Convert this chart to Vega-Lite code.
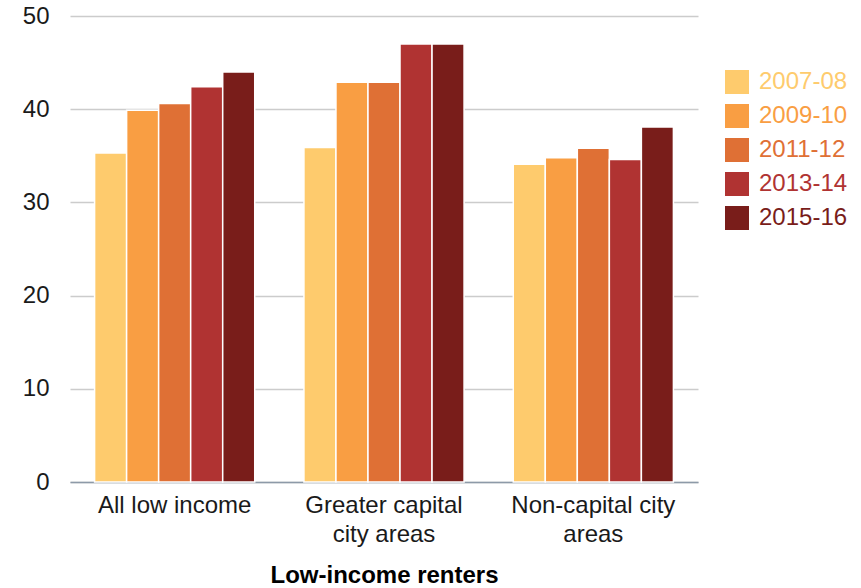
{
  "$schema": "https://vega.github.io/schema/vega-lite/v6.json",
  "width": 628,
  "height": 466,
  "autosize": {"type": "none"},
  "padding": {"left": 70, "top": 16, "right": 163, "bottom": 106},
  "background": "white",
  "config": {
    "view": {"stroke": null},
    "font": "Liberation Sans",
    "axis": {"labelFont": "Liberation Sans", "titleFont": "Liberation Sans"}
  },
  "data": {
    "values": [
      {"area": "All low income", "period": "2007-08", "share": 35.3},
      {"area": "All low income", "period": "2009-10", "share": 39.9},
      {"area": "All low income", "period": "2011-12", "share": 40.6},
      {"area": "All low income", "period": "2013-14", "share": 42.4},
      {"area": "All low income", "period": "2015-16", "share": 44.0},
      {"area": "Greater capital city areas", "period": "2007-08", "share": 35.9},
      {"area": "Greater capital city areas", "period": "2009-10", "share": 42.9},
      {"area": "Greater capital city areas", "period": "2011-12", "share": 42.9},
      {"area": "Greater capital city areas", "period": "2013-14", "share": 47.0},
      {"area": "Greater capital city areas", "period": "2015-16", "share": 47.0},
      {"area": "Non-capital city areas", "period": "2007-08", "share": 34.1},
      {"area": "Non-capital city areas", "period": "2009-10", "share": 34.8},
      {"area": "Non-capital city areas", "period": "2011-12", "share": 35.8},
      {"area": "Non-capital city areas", "period": "2013-14", "share": 34.6},
      {"area": "Non-capital city areas", "period": "2015-16", "share": 38.1}
    ]
  },
  "mark": {"type": "bar", "stroke": "white", "strokeWidth": 1.5},
  "encoding": {
    "x": {
      "field": "area",
      "type": "nominal",
      "sort": null,
      "scale": {"paddingInner": 0.235, "paddingOuter": 0.1175},
      "axis": {
        "title": "Low-income renters",
        "titleFontSize": 24,
        "titleFontWeight": "bold",
        "titleColor": "#000000",
        "titlePadding": 17,
        "labelAngle": 0,
        "labelFontSize": 24,
        "labelColor": "#1a1a1a",
        "labelLineHeight": 29,
        "labelPadding": 11,
        "labelLimit": 0,
        "labelExpr": "datum.value == 'Greater capital city areas' ? ['Greater capital', 'city areas'] : datum.value == 'Non-capital city areas' ? ['Non-capital city', 'areas'] : datum.value",
        "ticks": false,
        "domainColor": "#8d9aa8",
        "domainWidth": 1.5,
        "grid": false
      }
    },
    "xOffset": {
      "field": "period",
      "type": "nominal",
      "scale": {"paddingInner": 0, "paddingOuter": 0}
    },
    "y": {
      "field": "share",
      "type": "quantitative",
      "scale": {"domain": [0, 50], "nice": false},
      "axis": {
        "title": null,
        "values": [0, 10, 20, 30, 40, 50],
        "labelFontSize": 24,
        "labelColor": "#1a1a1a",
        "labelPadding": 21,
        "ticks": false,
        "domain": false,
        "gridColor": "#cccccc",
        "gridWidth": 1.5
      }
    },
    "color": {
      "field": "period",
      "type": "nominal",
      "scale": {
        "domain": ["2007-08", "2009-10", "2011-12", "2013-14", "2015-16"],
        "range": ["#fecb6d", "#f99e43", "#df7035", "#b03332", "#791d1a"]
      },
      "legend": {
        "title": null,
        "orient": "none",
        "legendX": 655,
        "legendY": 54,
        "symbolType": "square",
        "symbolSize": 576,
        "symbolStrokeWidth": 0,
        "symbolOpacity": 1,
        "labelFontSize": 24,
        "labelOffset": 10,
        "rowPadding": 10,
        "labelColor": {"expr": "scale('color', datum.value)"}
      }
    }
  }
}
